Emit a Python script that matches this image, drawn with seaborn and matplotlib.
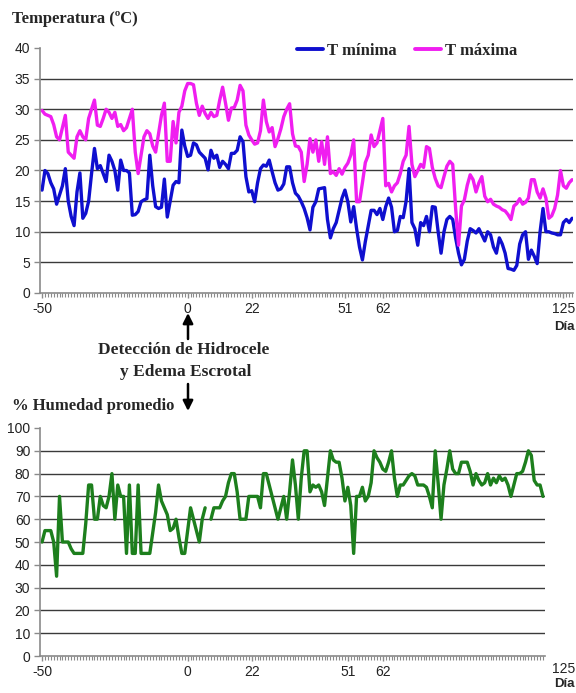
import numpy as np
import pandas as pd
import matplotlib
matplotlib.use("Agg")
import matplotlib.pyplot as plt
import matplotlib.transforms as mtransforms
from matplotlib.lines import Line2D
from matplotlib.patches import FancyArrowPatch
import seaborn as sns

# Daily minimum temperature (ºC)
t_minima = [
    16.8, 20.0, 19.5, 18.0, 17.0, 14.5, 16.0, 17.5, 20.3, 15.0,
    12.5, 11.0, 16.5, 19.6, 12.2, 13.0, 15.0, 19.5, 23.6, 20.3,
    20.8, 19.5, 18.2, 22.5, 21.5, 20.0, 16.8, 21.7, 20.0, 20.0,
    19.6, 12.7, 12.8, 13.3, 14.9, 15.2, 15.4, 22.5, 17.5, 14.1,
    13.8, 14.0, 18.6, 12.4, 15.0, 17.6, 18.2, 18.0, 26.6, 24.0,
    22.3, 22.5, 24.5, 24.2, 23.0, 22.5, 22.0, 20.1, 23.3, 22.0, 22.5,
    20.5, 21.5, 21.0, 20.3, 22.8, 22.8, 23.3, 25.5, 24.7, 19.0,
    16.5, 16.7, 14.9, 18.0, 20.3, 20.9, 20.7, 21.7, 19.8, 18.0,
    16.8, 17.0, 17.8, 20.6, 20.6, 18.0, 16.3, 15.8, 14.9, 13.8,
    12.3, 10.3, 14.0, 14.9, 17.0, 17.1, 17.2, 12.0, 9.0, 10.5,
    11.5, 13.5, 15.5, 16.8, 14.9, 11.6, 14.1, 10.5, 7.5, 5.4,
    8.4, 11.0, 13.5, 13.5, 12.8, 13.8, 12.0, 14.1, 15.5, 14.0,
    10.0, 10.2, 12.5, 12.3, 15.0, 20.3, 11.5, 10.5, 7.8, 11.5,
    11.0, 12.5, 10.0, 14.1, 14.0, 10.0, 6.5, 10.0, 12.0, 12.5,
    12.0, 9.0, 6.5, 4.6, 5.5, 8.5, 10.5, 10.2, 9.8, 10.5,
    9.5, 8.5, 10.0, 9.5, 7.5, 6.5, 9.0, 8.0, 6.5, 4.0,
    3.9, 3.7, 4.5, 8.0, 9.5, 10.0, 5.5, 7.0, 6.0, 4.8,
    10.0, 13.8, 10.0, 10.0, 9.8, 9.7, 9.5, 9.5, 11.5, 12.0, 11.5, 12.2,
]

# Daily maximum temperature (ºC)
t_maxima = [
    29.8, 29.2, 29.0, 28.8, 27.5, 25.5, 25.0, 27.0, 29.0, 23.0,
    22.5, 22.0, 25.5, 26.5, 25.5, 25.0, 28.5, 30.0, 31.5, 27.4,
    27.2, 28.5, 30.0, 29.5, 28.5, 29.5, 27.2, 27.5, 26.5, 27.0,
    28.5, 30.0, 23.0, 19.5, 22.5, 25.5, 26.5, 26.0, 24.0, 23.0,
    26.0, 29.0, 31.0, 21.5, 21.5, 28.0, 24.5, 29.5, 30.5, 33.0,
    34.2, 34.2, 34.0, 31.0, 29.0, 30.5, 29.3, 28.5, 29.5, 28.8, 29.0,
    31.5, 33.6, 31.0, 28.2, 30.2, 30.3, 31.5, 33.9, 33.0, 27.4,
    25.8, 25.0, 24.3, 24.5, 26.5, 31.5, 28.0, 26.3, 27.0, 23.9,
    25.2, 26.8, 28.8, 30.0, 30.9, 26.0, 24.0, 23.9, 23.0, 18.2,
    21.0, 25.2, 23.0, 25.0, 21.5, 24.7, 21.0, 25.5, 19.5, 19.8,
    19.2, 20.3, 19.4, 20.5, 21.2, 22.5, 25.0, 14.9, 14.9, 18.0,
    21.3, 22.5, 25.8, 23.9, 24.5, 26.5, 28.5, 17.5, 17.9, 16.5,
    17.5, 18.0, 19.5, 21.5, 22.5, 27.2, 21.0, 19.0, 20.0, 21.0,
    20.5, 23.9, 23.6, 20.5, 18.7, 17.5, 17.2, 19.0, 20.7, 21.5,
    21.0, 13.8, 7.8, 14.2, 15.2, 17.6, 19.3, 18.5, 16.5, 18.0,
    19.0, 15.8, 14.9, 15.3, 14.5, 14.2, 14.0, 13.6, 13.4, 12.8,
    12.0, 14.2, 14.6, 15.4, 14.5, 14.8, 15.5, 18.5, 18.5, 16.5,
    15.5, 17.0, 15.5, 12.2, 12.6, 13.8, 16.0, 20.0, 17.5, 17.1, 18.0, 18.5,
]

# Mean relative humidity (%); one missing day
humedad = [
    50, 55, 55, 55, 50, 35, 70, 50, 50, 50,
    47, 45, 45, 45, 45, 58, 75, 75, 60, 60,
    70, 66, 65, 70, 80, 60, 75, 70, 70, 45,
    75, 45, 45, 75, 45, 45, 45, 45, 54, 63,
    75, 68, 65, 62, 55, 56, 60, 52, 45, 45,
    55, 65, 60, 55, 50, 60, 65, np.nan, 60, 65,
    65, 65, 68, 70, 76, 80, 80, 72, 60, 60,
    60, 70, 70, 70, 70, 65, 80, 80, 75, 70,
    65, 60, 65, 70, 60, 72, 86, 75, 60, 78,
    90, 90, 72, 75, 74, 75, 72, 66, 78, 90,
    86, 85, 85, 78, 68, 74, 66, 45, 70, 70,
    74, 68, 70, 76, 90, 87, 85, 82, 81, 85,
    90, 78, 70, 75, 75, 77, 79, 80, 79, 75,
    75, 75, 74, 70, 65, 90, 76, 60, 75, 82,
    90, 82, 80, 80, 85, 85, 85, 81, 75, 80,
    77, 75, 76, 80, 75, 78, 76, 79, 77, 78,
    75, 70, 75, 80, 80, 81, 85, 90, 88, 77,
    75, 75, 70,
]

# Day labels shown on the category axis and the records they sit under
dia_etiquetas = ["-50", "0", "22", "51", "62", "125"]
dia_registro_temp = [0, 50, 72, 104, 117, 179]
dia_registro_hum = [0, 50, 72, 105, 117, 179]

serie_nombres = ["T mínima", "T máxima"]
serie_colores = ["#0f0fcf", "#f01ef0"]
color_humedad = "#1d7f1d"

sns.set_style("white")
plt.rcParams["font.family"] = ["Liberation Sans", "DejaVu Sans"]

temp = pd.DataFrame({
    "registro": np.arange(len(t_minima)),
    "T mínima": t_minima,
    "T máxima": t_maxima,
})
temp_largo = temp.melt(id_vars="registro", var_name="serie", value_name="valor")

hum = pd.DataFrame({"registro": np.arange(len(humedad)), "humedad": humedad})
hum["tramo"] = hum["humedad"].isna().cumsum()
hum = hum.dropna()

W, H = 576, 693
fig = plt.figure(figsize=(W / 100, H / 100), dpi=100)

def fx(px):
    return px / W

def fy(py):
    return 1 - py / H

ax1 = fig.add_axes([fx(40), fy(293), fx(533), 245 / H])
ax2 = fig.add_axes([fx(40), fy(656), fx(505), 228 / H])

serif_bold = dict(family=["Liberation Serif", "DejaVu Serif"], weight="bold")
TICK_SIZE = 10
tick_kw = dict(labelsize=TICK_SIZE, labelcolor="#222222")

def style_axis(ax, ymax, ystep, xlim):
    ax.set_xlim(*xlim)
    ax.set_ylim(0, ymax)
    ax.set_yticks(np.arange(0, ymax + 0.1, ystep))
    for v in np.arange(ystep, ymax - 0.1, ystep):
        ax.axhline(v, color="#3a3a3a", lw=1.0, zorder=0)
    for s in ["top", "right"]:
        ax.spines[s].set_visible(False)
    for s in ["left", "bottom"]:
        ax.spines[s].set_color("#8a8a8a")
        ax.spines[s].set_linewidth(1.2)
    ax.set_xticks(np.arange(0, int(xlim[1]) + 1), minor=True)
    ax.tick_params(axis="y", which="major", left=True, direction="out", length=4,
                   width=1, color="#8a8a8a", pad=3, **tick_kw)
    ax.tick_params(axis="x", which="major", bottom=True, direction="out", length=3.5,
                   width=1, color="#8a8a8a", pad=3, **tick_kw)
    ax.tick_params(axis="x", which="minor", bottom=True, direction="out", length=3,
                   width=0.8, color="#8a8a8a")
    ax.set_xlabel("")
    ax.set_ylabel("")

# Temperature panel
sns.lineplot(data=temp_largo, x="registro", y="valor", hue="serie",
             hue_order=serie_nombres, palette=serie_colores,
             linewidth=2.4, ax=ax1, legend=False)
style_axis(ax1, 40, 5, (-0.7, 182.3))
ax1.set_xticks(dia_registro_temp)
ax1.set_xticklabels(dia_etiquetas)

handles = [Line2D([], [], color=c, lw=2.8) for c in serie_colores]
ax1.legend(handles, serie_nombres, loc="center left",
           bbox_to_anchor=(fx(289), fy(51)), bbox_transform=fig.transFigure,
           ncol=2, frameon=False, handlelength=1.55, handletextpad=0.25,
           columnspacing=1.1, borderpad=0,
           prop=dict(family="Liberation Serif", weight="bold", size=12))

# Humidity panel
sns.lineplot(data=hum, x="registro", y="humedad", units="tramo", estimator=None,
             color=color_humedad, linewidth=2.4, ax=ax2)
style_axis(ax2, 100, 10, (-0.7, 172.7))
ax2.set_xticks(dia_registro_hum[:-1])
ax2.set_xticklabels(dia_etiquetas[:-1])
off = mtransforms.offset_copy(ax2.get_xaxis_transform(), fig=fig, y=-4, units="points")
ax2.text(dia_registro_hum[-1], 0, dia_etiquetas[-1], transform=off,
         ha="center", va="top", fontsize=TICK_SIZE, color="#222222")

# Titles and annotations
fig.text(fx(12), fy(19), "Temperatura (ºC)", ha="left", va="center", fontsize=12, **serif_bold)
fig.text(fx(12), fy(406), "% Humedad promedio", ha="left", va="center", fontsize=12, **serif_bold)
fig.text(fx(184), fy(350), "Detección de Hidrocele", ha="center", va="center", fontsize=12.5, **serif_bold)
fig.text(fx(186), fy(372), "y Edema Escrotal", ha="center", va="center", fontsize=12.5, **serif_bold)
fig.text(fx(564), fy(327), "Día", ha="center", va="center", fontsize=9.5, weight="bold")
fig.text(fx(564), fy(684), "Día", ha="center", va="center", fontsize=9.5, weight="bold")

for start, end in [((188, 339), (188, 313)), ((188, 384), (188, 411))]:
    fig.add_artist(FancyArrowPatch(
        (fx(start[0]), fy(start[1])), (fx(end[0]), fy(end[1])),
        transform=fig.transFigure, arrowstyle="-|>,head_length=0.5,head_width=0.25",
        mutation_scale=12, color="black", lw=1.8, shrinkA=0, shrinkB=0))

fig.savefig("out.png", dpi=100)
